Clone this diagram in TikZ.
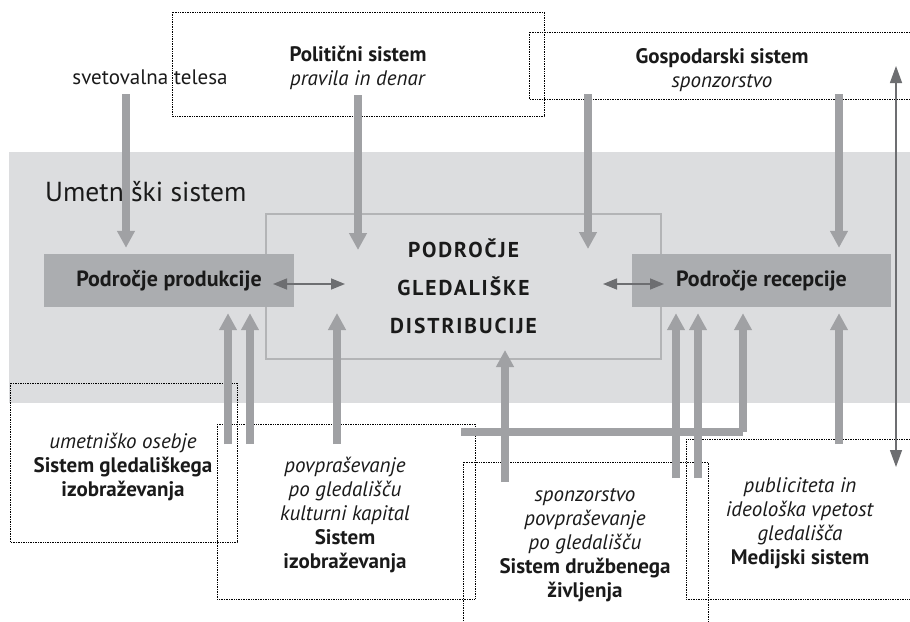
\documentclass[tikz,border=0pt]{standalone}
\usepackage{fontspec}
\setmainfont{PT Sans}
\usetikzlibrary{arrows.meta}
\definecolor{band}{HTML}{DCDDDF}
\definecolor{boxg}{HTML}{ABADB0}
\definecolor{arrg}{HTML}{A0A1A4}
\definecolor{distline}{HTML}{B3B4B6}
\definecolor{thinarr}{HTML}{6D6E71}
\definecolor{ink}{HTML}{1A1A1A}
\begin{document}
\begin{tikzpicture}[x=1pt,y=-1pt,
  dotbox/.style={densely dotted, line width=0.7pt, black},
  bigarrow/.style={draw=arrg, line width=8pt, -{Triangle[width=17pt,length=17pt]}},
  bigbar/.style={draw=arrg, line width=8pt, line join=miter},
  twoway/.style={draw=thinarr, line width=1.5pt, {Triangle[width=11pt,length=14pt]}-{Triangle[width=11pt,length=14pt]}},
  txt/.style={align=center, inner sep=0pt, text=ink, font=\fontsize{21}{24}\selectfont},
  areabox/.style={fill=boxg, inner sep=0pt, text=ink, font=\bfseries\fontsize{22}{24}\selectfont}
]
\useasboundingbox (0,0) rectangle (910,621);
\clip (0,0) rectangle (910,621);
\fill[white] (0,0) rectangle (910,621);
% grey band (art system)
\fill[band] (9,152) rectangle (915,403);
\node[anchor=base west, inner sep=0pt, text=ink, font=\fontsize{27.5}{30}\selectfont] (title) at (45,201) {Umetniški sistem};
% dotted system boxes
\draw[dotbox] (172,12) rectangle (544,116);
\draw[dotbox] (529,32) rectangle (915,99);
\draw[dotbox] (10,383) rectangle (237,542);
\draw[dotbox] (217,424) rectangle (475,599);
\draw[dotbox] (463,462) rectangle (708,630);
\draw[dotbox] (686,439) rectangle (915,599);
% distribution area
\node[draw=distline, line width=2pt, minimum width=395pt, minimum height=145pt, inner sep=0pt,
      align=center, text=ink, font=\bfseries\fontsize{21.5}{38}\selectfont\addfontfeatures{LetterSpace=9}]
      (dist) at (463.5,286.5) {PODROČJE\\GLEDALIŠKE\\DISTRIBUCIJE};
% production and reception areas
\node[areabox, minimum width=250pt, minimum height=53pt] (prod) at (169,280.5) {Področje produkcije};
\node[areabox, minimum width=259pt, minimum height=53pt] (rec) at (761.5,280.5) {Področje recepcije};
% texts
\node[txt] (svet) at (150,77) {svetovalna telesa};
\node[txt] (pol) at (358,68) {\textbf{Politični sistem}\\\textit{pravila in denar}};
\node[txt] (gosp) at (722,70) {\textbf{Gospodarski sistem}\\\textit{sponzorstvo}};
\node[txt] (gledizo) at (123,467) {\textit{umetniško osebje}\\\textbf{Sistem gledališkega}\\\textbf{izobraževanja}};
\node[txt] (izo) at (345,515) {\textit{povpraševanje}\\\textit{po gledališču}\\\textit{kulturni kapital}\\\textbf{Sistem}\\\textbf{izobraževanja}};
\node[txt] (druz) at (585,545) {\textit{sponzorstvo}\\\textit{povpraševanje}\\\textit{po gledališču}\\\textbf{Sistem družbenega}\\\textbf{življenja}};
\node[txt] (med) at (800,523) {\textit{publiciteta in}\\\textit{ideološka vpetost}\\\textit{gledališča}\\\textbf{Medijski sistem}};
% arrow start / end coordinates
\coordinate (t1) at (126,94);
\coordinate (t2) at (358,95);
\coordinate (t2e) at (358,250);
\coordinate (t3) at (588,94);
\coordinate (t3e) at (588,249);
\coordinate (t4) at (839,94);
\coordinate (b1) at (228,444);
\coordinate (b2) at (250,444);
\coordinate (b3) at (337,444);
\coordinate (b3e) at (337,313);
\coordinate (b4) at (505,482);
\coordinate (b4e) at (505,350);
\coordinate (b5) at (676,478);
\coordinate (b6) at (698,478);
\coordinate (lbar) at (461,432);
\coordinate (lcorner) at (743,432);
\coordinate (b8) at (839,444);
\coordinate (pd1) at (273,284);
\coordinate (pd2) at (345,284);
\coordinate (dr1) at (603,284);
\coordinate (dr2) at (664,284);
\coordinate (vtop) at (896,66);
\coordinate (vbot) at (896,467);
% thick arrows from above
\draw[bigarrow] (t1) -- ([yshift=6pt]t1 |- prod.north);
\draw[bigarrow] (t2) -- (t2e);
\draw[bigarrow] (t3) -- (t3e);
\draw[bigarrow] (t4) -- ([yshift=6pt]t4 |- rec.north);
% thick arrows from below
\draw[bigarrow] (b1) -- ([yshift=-6pt]b1 |- prod.south);
\draw[bigarrow] (b2) -- ([yshift=-6pt]b2 |- prod.south);
\draw[bigarrow] (b3) -- (b3e);
\draw[bigarrow] (b4) -- (b4e);
\draw[bigarrow] (b5) -- ([yshift=-6pt]b5 |- rec.south);
\draw[bigarrow] (b6) -- ([yshift=-6pt]b6 |- rec.south);
\draw[bigbar] (lbar) -- (lcorner);
\draw[bigarrow] (lcorner) -- ([yshift=-6pt]lcorner |- rec.south);
\draw[bigarrow] (b8) -- ([yshift=-6pt]b8 |- rec.south);
% thin two-way arrows
\draw[twoway] (pd1) -- (pd2);
\draw[twoway] (dr1) -- (dr2);
\draw[draw=thinarr, line width=1.3pt, {Triangle[width=12pt,length=17pt]}-{Triangle[width=12pt,length=17pt]}] (vtop) -- (vbot);
\end{tikzpicture}
\end{document}
